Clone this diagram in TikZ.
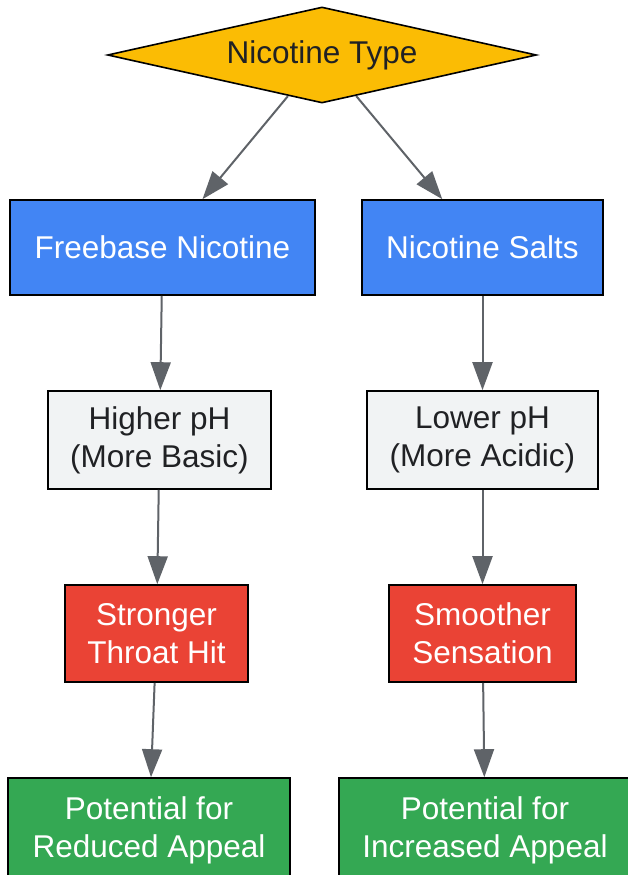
\documentclass[tikz,border=0pt]{standalone}
\usepackage{xcolor}
\usepackage{tikz}
\usepackage{fontspec}
\setmainfont{Liberation Sans}
\usetikzlibrary{shapes.geometric,arrows.meta}
\definecolor{cy}{HTML}{FBBC04}
\definecolor{cb}{HTML}{4285F4}
\definecolor{cg}{HTML}{F1F3F4}
\definecolor{cr}{HTML}{EA4335}
\definecolor{cgr}{HTML}{34A853}
\definecolor{cl}{HTML}{5F6368}
\definecolor{ct}{HTML}{202124}
\tikzset{
	box/.style={draw=black, line width=1.6pt, inner sep=0pt, align=center, font=\fontsize{31.5}{38}\selectfont},
	lightbox/.style={box, fill=cg, text=ct},
	bluebox/.style={box, fill=cb, text=white},
	redbox/.style={box, fill=cr, text=white},
	greenbox/.style={box, fill=cgr, text=white},
	decision/.style={box, diamond, aspect=4.47, fill=cy, text=ct, minimum width=429pt, minimum height=96pt},
	arr/.style={cl, line width=2pt, -{Triangle[length=28pt, width=20pt]}}
}

\begin{document}
\begin{tikzpicture}[x=1pt, y=1pt]
	\useasboundingbox (0, 0) rectangle (628, -875);
	\node[decision] (type) at (322, -55) {Nicotine Type};
	\node[bluebox, minimum width=305pt, minimum height=95pt] (free) at (162.5, -247.5) {Freebase Nicotine};
	\node[bluebox, minimum width=241pt, minimum height=95pt] (salts) at (482.5, -247.5) {Nicotine Salts};
	\node[lightbox, minimum width=223pt, minimum height=98pt] (high) at (159.5, -440) {Higher pH\\(More Basic)};
	\node[lightbox, minimum width=231pt, minimum height=98pt] (low) at (482.5, -440) {Lower pH\\(More Acidic)};
	\node[redbox, minimum width=183pt, minimum height=97pt] (strong) at (156.5, -633.5) {Stronger\\Throat Hit};
	\node[redbox, minimum width=187pt, minimum height=97pt] (smooth) at (482.5, -633.5) {Smoother\\Sensation};
	\node[greenbox, minimum width=282pt, minimum height=104pt] (reduced) at (149, -830) {Potential for\\Reduced Appeal};
	\node[greenbox, minimum width=292pt, minimum height=104pt] (increased) at (485, -830) {Potential for\\Increased Appeal};

	\draw[arr] (type) -- (free);
	\draw[arr] (type) -- (salts);
	\draw[arr] (free) -- (high);
	\draw[arr] (salts) -- (low);
	\draw[arr] (high) -- (strong);
	\draw[arr] (low) -- (smooth);
	\draw[arr] (strong) -- (reduced);
	\draw[arr] (smooth) -- (increased);
\end{tikzpicture}
\end{document}
